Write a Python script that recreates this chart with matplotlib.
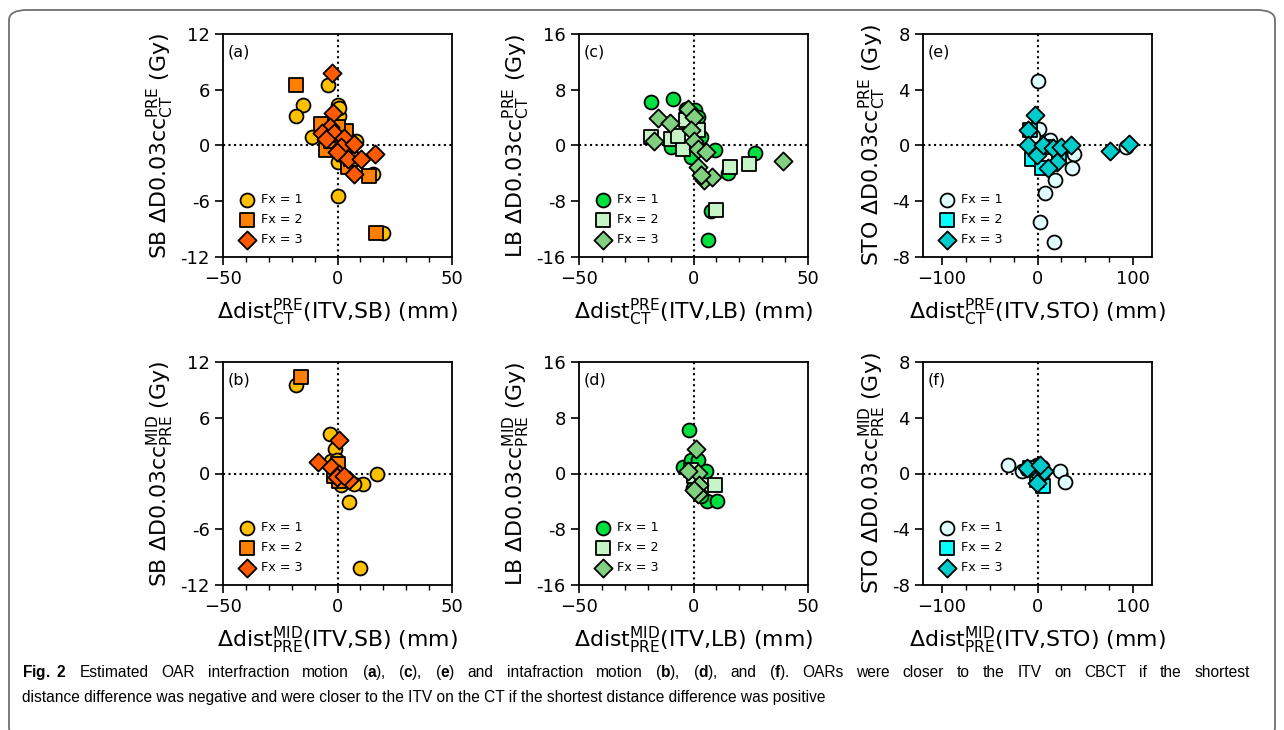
#!/usr/bin/env python3
"""Fig. 2 - OAR inter/intrafraction motion vs dose difference (6 panels)."""

import matplotlib
matplotlib.use("Agg")
import matplotlib.pyplot as plt
from matplotlib.patches import FancyBboxPatch

plt.rcParams["font.family"] = "DejaVu Sans"
plt.rcParams["mathtext.fontset"] = "dejavusans"
plt.rcParams["mathtext.rm"] = "Liberation Sans"
plt.rcParams["mathtext.bf"] = "Liberation Sans:bold"

# ── Data ──────────────────────────────────────────────────────────
# (a) SB, CT -> PRE
A_FX1_X = [-4.1, -15, -18, -11.2, 0, 0.7, 0, 0, 20, 15.3, 8, 0.5, 3, 5, 2, -1]
A_FX1_Y = [6.5, 4.4, 3.2, 0.9, 4.4, 3.2, -1.8, -5.4, -9.4, -3.1, 0.5, 4.0, 0.3, -0.5, -1.0, 1.5]
A_FX2_X = [-18, -7.3, -5.1, 3.6, 13.9, 17, 4.4, 0, -3, 6]
A_FX2_Y = [6.5, 2.3, -0.5, 1.6, -3.3, -9.4, -2.3, 2.0, 0.5, -1.5]
A_FX3_X = [-2.2, -1.9, -3.4, -6.6, -1.5, -5.1, 2.9, 1.5, 7.3, 4.4, 10.2, 16.4, 7.0, -0.3]
A_FX3_Y = [7.8, 3.5, 2.0, 1.3, 1.3, 0.7, 0.8, -0.2, 0.2, -1.4, -1.5, -0.9, -3.1, -0.7]

# (b) SB, PRE -> MID
B_FX1_X = [-18.2, -3.2, -1.2, 17.2, 11.2, 7, 5.1, 9.9, -2.9, -0.3, 1.5]
B_FX1_Y = [9.5, 4.2, 2.6, -0.1, -1.1, -1.1, -3.1, -10.2, 1.3, 1.5, -1.2]
B_FX2_X = [-16, 0, 0.7, -1.5]
B_FX2_Y = [10.4, 1.0, -0.8, -0.3]
B_FX3_X = [0.7, -8.5, -2.9, 0.7, 5.1, -0.4, 2.9]
B_FX3_Y = [3.6, 1.2, 0.7, -0.1, -0.7, -0.4, -0.3]

# (c) LB, CT -> PRE
C_FX1_X = [-18.6, -8.8, -3.2, 0.7, 9.5, 26.8, 15, 7.8, 6.3, -1, -9.8, 1.9, 3.1]
C_FX1_Y = [6.3, 6.7, 5.3, 5.1, -0.6, -1.1, -4, -9.4, -13.6, -1.7, -0.2, 4.1, 1.2]
C_FX2_X = [-18.6, -9.8, -4.7, 16.1, 24.2, 10, -3.2, 1.9, -6.9]
C_FX2_Y = [1.2, 1.0, -0.5, -3.1, -2.6, -9.3, 3.6, 2.2, 1.4]
C_FX3_X = [-15.7, -10.2, -2.5, 0.4, -1, 0, -17.1, 1.9, 1.9, 5.6, 4.8, 8, 39.2, 3.4]
C_FX3_Y = [4.0, 3.2, 5.2, 4.1, 2.2, 0.6, 0.7, -0.5, -3.1, -1.0, -5, -4.5, -2.2, -4.3]

# (d) LB, PRE -> MID
D_FX1_X = [-1.8, -4.7, -1, 1.9, 5.6, 5.9, 10.4, -0.3, 3.4]
D_FX1_Y = [6.2, 1.0, 2.0, 2.0, 0.3, -3.9, -3.9, -2.1, -3.3]
D_FX2_X = [9.2, 0.4, -1]
D_FX2_Y = [-1.6, -0.4, 0.5]
D_FX3_X = [1.2, 1.9, -2.5, 2.2, 1.9, 0.1]
D_FX3_Y = [3.5, 0.1, 0.3, -1.7, -3.0, -2.3]

# (e) STO, CT -> PRE
E_FX1_X = [1, 2, 13.3, 37.9, 36.1, 17.9, 8.1, 2.8, 16.8, 92.3, -4.2]
E_FX1_Y = [4.6, 1.2, 0.4, -0.6, -1.6, -2.5, -3.4, -5.5, -6.9, -0.1, 0.7]
E_FX2_X = [-6, 4.6, 22.1, 9.8, -7.7]
E_FX2_Y = [-1.0, -1.6, -0.8, -0.1, 1.1]
E_FX3_X = [-2.5, -9.5, -9.5, -0.7, 5.3, 15.8, 24.6, 35.4, 20.4, 10.5, 75.8, 95.8]
E_FX3_Y = [2.2, 1.1, 0, -0.7, 0, -0.2, -0.1, 0, -1.2, -1.6, -0.4, 0.1]

# (f) STO, PRE -> MID
F_FX1_X = [-31.2, -16.5, -0.7, 23.2, 28.4, -11.2, 4.6]
F_FX1_Y = [0.6, 0.2, 0.6, 0.2, -0.6, 0.3, 0.5]
F_FX2_X = [5.6, -0.7, -7.7]
F_FX2_Y = [-0.9, -0.5, 0.4]
F_FX3_X = [-11.2, 2.1, 6.3, -0.7, 2.8]
F_FX3_Y = [0.4, -0.2, 0.2, -0.7, 0.6]

SB_COLORS = ["#FFC000", "#FF8000", "#FF5A00"]
LB_COLORS = ["#00E040", "#C8F5C8", "#80D080"]
STO_COLORS = ["#E0FFFF", "#00FFFF", "#00CCCC"]
MARKERS = ["o", "s", "D"]
FX_LABELS = ["Fx = 1", "Fx = 2", "Fx = 3"]

SB_YTICKS = [-12, -6, 0, 6, 12]
LB_YTICKS = [-16, -8, 0, 8, 16]
STO_YTICKS = [-8, -4, 0, 4, 8]

CAPTION_1 = (r"$\mathbf{Fig.\;2}$ Estimated OAR interfraction motion ($\mathbf{a}$), "
             r"($\mathbf{c}$), ($\mathbf{e}$) and intafraction motion ($\mathbf{b}$), "
             r"($\mathbf{d}$), and ($\mathbf{f}$). OARs were closer to the ITV on CBCT "
             r"if the shortest")
CAPTION_2 = ("distance difference was negative and were closer to the ITV on the CT "
             "if the shortest distance difference was positive")


def panel(ax, tag, series, colors, yticks, xlim, xmajor, xminor, organ, sup, sub):
    sizes = [100, 100, 85]
    for i, (xs, ys) in enumerate(series):
        ax.scatter(xs, ys, s=sizes[i], marker=MARKERS[i], c=colors[i],
                   edgecolors="black", linewidths=1.3, label=FX_LABELS[i],
                   zorder=3 + i)
    ax.axhline(0, color="black", linestyle=":", linewidth=1.5, zorder=1)
    ax.axvline(0, color="black", linestyle=":", linewidth=1.5, zorder=1)
    ax.set_xlim(*xlim)
    ax.set_ylim(yticks[0], yticks[-1])
    ax.set_yticks(yticks)
    ax.set_yticklabels([str(t) for t in yticks])
    ax.set_xticks(xmajor)
    ax.set_xticks(xminor, minor=True)
    ax.tick_params(axis="both", which="major", labelsize=13, length=6,
                   width=1.2, direction="out")
    ax.tick_params(axis="x", which="minor", length=3.5, width=1.0)
    for sp in ax.spines.values():
        sp.set_linewidth(1.3)
    ax.text(0.022, 0.955, f"({tag})", transform=ax.transAxes,
            ha="left", va="top", fontsize=11.5)
    ax.set_xlabel(r"$\Delta$dist$^{\mathrm{%s}}_{\mathrm{%s}}$(ITV,%s) (mm)"
                  % (sup, sub, organ), fontsize=15.8, labelpad=6)
    ax.set_ylabel(r"%s $\Delta$D0.03cc$^{\mathrm{%s}}_{\mathrm{%s}}$ (Gy)"
                  % (organ, sup, sub), fontsize=15.8, labelpad=3)
    ax.legend(loc="lower left", frameon=False, fontsize=9.2, handletextpad=0.15,
              labelspacing=0.55, borderaxespad=0.45, bbox_to_anchor=(0.0, 0.0))


fig = plt.figure(figsize=(12.84, 7.30), dpi=100)

lefts = [223 / 1284, 579 / 1284, 923 / 1284]
w = 229 / 1284
h = 223 / 730
bottoms = [1 - 257 / 730, 1 - 585 / 730]

sb_minor = list(range(-50, 51, 10))
sto_minor = list(range(-100, 101, 25))

cfg = [
    ("a", [(A_FX1_X, A_FX1_Y), (A_FX2_X, A_FX2_Y), (A_FX3_X, A_FX3_Y)],
     SB_COLORS, SB_YTICKS, (-50, 50), [-50, 0, 50], sb_minor, "SB", "PRE", "CT", 0, 0),
    ("b", [(B_FX1_X, B_FX1_Y), (B_FX2_X, B_FX2_Y), (B_FX3_X, B_FX3_Y)],
     SB_COLORS, SB_YTICKS, (-50, 50), [-50, 0, 50], sb_minor, "SB", "MID", "PRE", 0, 1),
    ("c", [(C_FX1_X, C_FX1_Y), (C_FX2_X, C_FX2_Y), (C_FX3_X, C_FX3_Y)],
     LB_COLORS, LB_YTICKS, (-50, 50), [-50, 0, 50], sb_minor, "LB", "PRE", "CT", 1, 0),
    ("d", [(D_FX1_X, D_FX1_Y), (D_FX2_X, D_FX2_Y), (D_FX3_X, D_FX3_Y)],
     LB_COLORS, LB_YTICKS, (-50, 50), [-50, 0, 50], sb_minor, "LB", "MID", "PRE", 1, 1),
    ("e", [(E_FX1_X, E_FX1_Y), (E_FX2_X, E_FX2_Y), (E_FX3_X, E_FX3_Y)],
     STO_COLORS, STO_YTICKS, (-120, 120), [-100, 0, 100], sto_minor, "STO", "PRE", "CT", 2, 0),
    ("f", [(F_FX1_X, F_FX1_Y), (F_FX2_X, F_FX2_Y), (F_FX3_X, F_FX3_Y)],
     STO_COLORS, STO_YTICKS, (-120, 120), [-100, 0, 100], sto_minor, "STO", "MID", "PRE", 2, 1),
]

for tag, series, colors, yt, xl, xmaj, xmin, organ, sup, sub, col, row in cfg:
    ax = fig.add_axes([lefts[col], bottoms[row], w, h])
    panel(ax, tag, series, colors, yt, xl, xmaj, xmin, organ, sup, sub)

# page-style rounded frame (top-left corner visible, bottom runs off the page)
frame = FancyBboxPatch((9 / 1284, -8 / 730), 1266 / 1284, 728 / 730,
                       boxstyle="round,pad=0,rounding_size=0.014",
                       transform=fig.transFigure, fill=False,
                       edgecolor="#707070", linewidth=1.3, clip_on=False)
fig.patches.append(frame)

# caption: first line justified across the width, second line left-aligned
cap_kw = dict(fontsize=11.2, family="Liberation Sans", va="baseline", ha="left")
renderer = fig.canvas.get_renderer()
x0, x1 = 22, 1250
words = CAPTION_1.split(" ")
texts = [fig.text(0, 1 - 677 / 730, wd, math_fontfamily="custom", **cap_kw)
         for wd in words]
widths = [t.get_window_extent(renderer).width for t in texts]
gap = (x1 - x0 - sum(widths)) / (len(words) - 1)
xpos = x0
for t, wpx in zip(texts, widths):
    t.set_x(xpos / 1284)
    xpos += wpx + gap
fig.text(x0 / 1284, 1 - 702 / 730, CAPTION_2, **cap_kw)

fig.savefig("out.png", dpi=100)
